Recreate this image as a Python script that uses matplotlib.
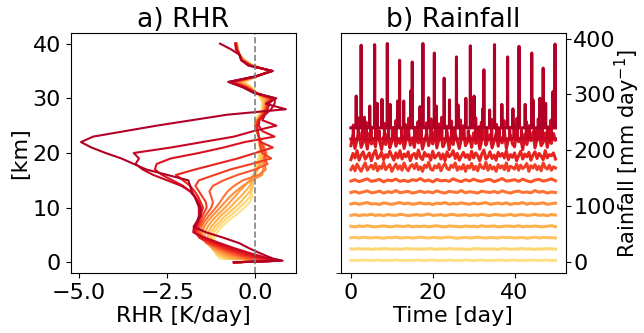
import numpy as np
import matplotlib
matplotlib.use("Agg")
import matplotlib.pyplot as plt
from matplotlib.ticker import FixedLocator

plt.rcParams["font.size"] = 16

# ---- a) radiative heating rate profiles (K/day), lightest -> darkest
heights = [0, 0.3, 0.7, 1.5, 2.5, 3.5, 4.5, 5.5, 6.5, 7.5, 8.5, 10, 11, 12, 13, 14, 15,
           16, 17, 18, 19, 20, 21, 22, 23, 24, 25, 26, 27, 28, 29, 30, 31, 32, 33, 34,
           35, 36, 37, 38, 39, 40]

rhr_profiles = [
    [-0.55, 0.45, -1.0, -1.12, -1.18, -1.18, -1.15, -1.08, -0.95, -0.78, -0.58, -0.3,
     -0.15, -0.08, -0.12, -0.06, -0.1, -0.04, -0.02, 0.02, 0.08, 0.12, 0.12, 0.1, 0.1, 0.06, 0.02, 0.0, 0.1, 0.18, 0.2,
     0.15, 0.05, -0.1, -0.3, 0.05, 0.4, -0.05, -0.3, -0.45, -0.5, -0.5],
    [-0.58, 0.48, -0.9, -1.1, -1.2, -1.22, -1.22, -1.17, -1.05, -0.9, -0.72, -0.45,
     -0.28, -0.15, -0.1, -0.08, -0.06, -0.04, 0.0, 0.05, 0.12, 0.15, 0.15, 0.12, 0.1, 0.05, 0.0, 0.02, 0.12, 0.2, 0.22,
     0.18, 0.04, -0.12, -0.34, 0.05, 0.41, -0.06, -0.31, -0.45, -0.5, -0.52],
    [-0.6, 0.5, -0.8, -1.05, -1.22, -1.27, -1.28, -1.25, -1.15, -1.0, -0.85, -0.58,
     -0.42, -0.28, -0.15, -0.08, -0.05, 0.0, 0.05, 0.1, 0.15, 0.18, 0.18, 0.14, 0.1, 0.05, 0.0, 0.04, 0.14, 0.22, 0.24,
     0.2, 0.04, -0.14, -0.38, 0.05, 0.42, -0.07, -0.32, -0.45, -0.5, -0.52],
    [-0.6, 0.52, -0.68, -0.98, -1.22, -1.32, -1.35, -1.33, -1.25, -1.12, -0.98, -0.72,
     -0.58, -0.42, -0.28, -0.15, -0.08, -0.02, 0.05, 0.12, 0.2, 0.22, 0.2, 0.15, 0.1, 0.05, 0.0, 0.05, 0.15, 0.24, 0.26,
     0.24, 0.04, -0.15, -0.42, 0.04, 0.43, -0.08, -0.33, -0.45, -0.5, -0.53],
    [-0.6, 0.55, -0.55, -0.9, -1.2, -1.36, -1.42, -1.42, -1.35, -1.24, -1.1, -0.86,
     -0.72, -0.58, -0.45, -0.3, -0.16, -0.05, 0.08, 0.18, 0.25, 0.28, 0.24, 0.16, 0.1, 0.05, 0.0, 0.06, 0.16, 0.25, 0.28,
     0.28, 0.03, -0.17, -0.46, 0.04, 0.44, -0.09, -0.34, -0.45, -0.5, -0.53],
    [-0.6, 0.58, -0.42, -0.8, -1.15, -1.38, -1.48, -1.5, -1.45, -1.35, -1.22, -1.0,
     -0.86, -0.72, -0.55, -0.35, -0.1, 0.2, 0.22, 0.25, 0.3, 0.32, 0.26, 0.18, 0.1, 0.05, 0.0, 0.06, 0.18, 0.26, 0.3,
     0.32, 0.03, -0.19, -0.5, 0.03, 0.45, -0.1, -0.35, -0.45, -0.5, -0.54],
    [-0.6, 0.6, -0.3, -0.7, -1.08, -1.38, -1.52, -1.55, -1.52, -1.44, -1.32, -1.12,
     -1.0, -0.9, -0.78, -0.6, -0.35, 0.1, 0.3, 0.25, 0.3, 0.3, 0.25, 0.18, 0.1, 0.05, 0.0, 0.08, 0.2, 0.28, 0.32,
     0.36, 0.02, -0.21, -0.54, 0.03, 0.46, -0.11, -0.36, -0.45, -0.5, -0.54],
    [-0.6, 0.62, -0.15, -0.6, -1.0, -1.35, -1.55, -1.6, -1.58, -1.5, -1.42, -1.25,
     -1.2, -1.25, -1.3, -1.2, -0.9, -0.5, 0.0, 0.35, 0.25, 0.28, 0.22, 0.15, 0.1, 0.05, 0.0, 0.08, 0.2, 0.3, 0.34,
     0.4, 0.02, -0.23, -0.58, 0.02, 0.46, -0.12, -0.37, -0.45, -0.52, -0.55],
    [-0.6, 0.65, 0.0, -0.48, -0.9, -1.3, -1.58, -1.66, -1.62, -1.55, -1.5, -1.38,
     -1.4, -1.5, -1.6, -1.7, -1.6, -1.15, -0.7, -0.1, 0.45, 0.2, 0.15, 0.12, 0.1, 0.06, 0.02, 0.1, 0.22, 0.32, 0.36,
     0.44, 0.01, -0.25, -0.62, 0.02, 0.47, -0.13, -0.38, -0.45, -0.52, -0.55],
    [-0.6, 0.68, 0.15, -0.35, -0.8, -1.22, -1.58, -1.7, -1.66, -1.6, -1.56, -1.48,
     -1.55, -1.62, -1.72, -1.85, -2.05, -2.25, -1.7, -1.1, -0.5, 0.0, 0.5, 0.15, 0.1, 0.08, 0.05, 0.1, 0.24, 0.34, 0.38,
     0.48, 0.01, -0.27, -0.66, 0.01, 0.47, -0.14, -0.38, -0.45, -0.53, -0.56],
    [-0.6, 0.7, 0.28, -0.2, -0.68, -1.1, -1.5, -1.74, -1.7, -1.62, -1.58, -1.55,
     -1.6, -1.7, -1.85, -2.05, -2.35, -2.65, -2.85, -2.8, -2.4, -1.6, -0.9, -0.3, 0.55, 0.2, 0.1, 0.12, 0.25, 0.35, 0.4,
     0.52, 0.0, -0.29, -0.7, 0.01, 0.48, -0.16, -0.39, -0.45, -0.54, -0.56],
    [-0.6, 0.72, 0.4, -0.05, -0.55, -1.0, -1.42, -1.76, -1.74, -1.65, -1.6, -1.6,
     -1.65, -1.72, -1.85, -2.1, -2.5, -2.9, -3.2, -3.4, -3.3, -3.45, -2.4, -1.5, -0.6, -0.05, 0.6, 0.2, 0.28, 0.45, 0.55,
     0.56, 0.0, -0.32, -0.74, 0.0, 0.49, -0.18, -0.4, -0.45, -0.55, -0.56],
    [-0.62, 0.78, 0.5, 0.2, -0.15, -0.45, -0.9, -1.4, -1.75, -1.65, -1.55, -1.55,
     -1.65, -1.72, -1.8, -1.85, -1.9, -2.5, -3.1, -3.45, -3.8, -4.25, -4.65, -4.95, -4.6, -3.7, -2.8, -1.8, -0.8, 0.87, 0.3,
     0.6, -0.05, -0.35, -0.77, 0.0, 0.5, -0.2, -0.4, -0.45, -0.7, -1.0],
]

# ---- b) rainfall (mm/day); daily values for the calm runs
rain_days = np.arange(0, 51)
rain_0 = [2, 2.5, 2, 3, 2.5, 2, 2.5, 3, 2, 2.5, 2, 3, 2.5, 2, 2.5, 2, 3, 2.5, 2, 2.5,
          3, 2, 2.5, 2, 3, 2.5, 2, 2, 3, 2.5, 2, 2.5, 3, 2, 2.5, 2, 3, 2.5, 2, 2.5,
          3, 2, 2.5, 2, 3, 2.5, 2, 2.5, 3, 2, 2.5]
rain_1 = [3, 2.5, 3.5, 2.5, 3, 2, 3, 2.5, 3.5, 3, 2.5, 3, 2, 3, 3.5, 2.5, 3, 2.5, 2.5, 3.5,
          3, 2, 3, 2.5, 3.5, 3, 2.5, 3, 2.5, 2, 3, 3.5, 2.5, 3, 2.5, 3, 2, 3.5, 3, 2.5,
          2.5, 3, 3.5, 2.5, 3, 2, 3, 2.5, 3.5, 3, 2.5]
rain_2 = [3, 3.5, 2.5, 4, 3, 2.5, 3.5, 3, 2, 3.5, 3, 4, 2.5, 3, 3.5, 2.5, 3, 4, 3, 2.5,
          3.5, 3, 2.5, 3.5, 4, 3, 2, 3, 3.5, 2.5, 3, 4, 3, 2.5, 3.5, 3, 2.5, 4, 3, 3.5,
          2.5, 3, 3.5, 2, 3, 4, 2.5, 3.5, 3, 3, 2.5]
rain_3 = [3.5, 2.5, 4, 3, 4.5, 3, 2.5, 3.5, 4, 3, 2.5, 4, 3.5, 3, 4.5, 2.5, 3.5, 3, 4, 2.5,
          3.5, 4.5, 3, 2.5, 4, 3.5, 3, 2.5, 4, 3, 3.5, 2.5, 4.5, 3, 3.5, 4, 2.5, 3, 4, 3.5,
          3, 4.5, 2.5, 3.5, 3, 4, 3, 2.5, 3.5, 4.5, 3]
rain_4 = [3, 4.5, 2.5, 4, 3.5, 5, 3, 4, 2.5, 4.5, 3.5, 3, 5, 4, 2.5, 3.5, 4.5, 3, 4, 5.5,
          3, 3.5, 4.5, 2.5, 4, 5, 3, 3.5, 4.5, 2.5, 4, 3, 5, 3.5, 2.5, 4.5, 4, 3, 3.5, 5,
          2.5, 4, 4.5, 3, 3.5, 5, 3, 4, 2.5, 4.5, 3.5]
rain_5 = [3.5, 5, 3, 4.5, 6, 3.5, 4, 2.5, 5.5, 4, 3, 4.5, 6, 3.5, 5, 3, 4, 5.5, 3.5, 4.5,
          2.5, 5, 4, 6, 3, 4.5, 3.5, 5.5, 4, 3, 5, 3.5, 4.5, 6, 3, 4, 5, 3.5, 5.5, 2.5,
          4.5, 4, 6, 3, 5, 3.5, 4.5, 5.5, 3, 4, 5]
rain_6 = [4, 6, 3, 5, 7, 3.5, 4.5, 6.5, 3, 5.5, 4, 7.5, 3.5, 5, 6, 3, 4.5, 6.5, 4, 5.5,
          3.5, 7, 4.5, 3, 6, 5, 4, 7.5, 3.5, 5.5, 4.5, 3, 6.5, 5, 4, 6, 3.5, 7, 4.5, 3,
          5.5, 6.5, 4, 5, 3.5, 7.5, 4.5, 6, 3, 5, 4]
rain_7 = [4.5, 7, 3.5, 6, 8.5, 4, 5.5, 7.5, 3, 6.5, 5, 8, 4, 6, 3.5, 7, 5.5, 9, 4.5, 6.5,
          3, 7.5, 5, 6, 4, 8.5, 5.5, 3.5, 7, 4.5, 8, 5, 4, 6.5, 7.5, 3.5, 6, 9, 4.5, 5.5,
          7, 4, 8, 5, 3, 6.5, 7.5, 4.5, 6, 8.5, 5]

# half-daily values for the gustier runs
rain_half_days = np.arange(0, 50.5, 0.5)
rain_8 = [5, 12, 3, 15, 8, 2, 10, 17, 4, 9, 13, 6, 16, 3, 11, 7, 18, 5, 10, 14,
          2, 9, 15, 6, 12, 4, 17, 8, 3, 11, 14, 7, 16, 5, 10, 2, 13, 9, 18, 6,
          4, 12, 8, 15, 3, 11, 16, 7, 5, 13, 9, 17, 4, 10, 6, 14, 2, 12, 8, 16,
          5, 11, 3, 15, 9, 7, 18, 4, 13, 6, 10, 2, 14, 8, 12, 5, 17, 3, 11, 9,
          6, 15, 4, 13, 7, 10, 16, 2, 12, 8, 14, 5, 11, 3, 17, 9, 6, 13, 4, 10, 8]
rain_9 = [3, 14, 6, 19, 2, 11, 17, 4, 9, 15, 1, 13, 20, 5, 8, 16, 3, 12, 7, 18,
          10, 2, 15, 6, 19, 4, 13, 8, 17, 1, 11, 14, 5, 20, 7, 3, 16, 9, 12, 2,
          18, 6, 10, 15, 4, 13, 1, 17, 8, 11, 19, 5, 14, 2, 9, 16, 7, 12, 3, 18,
          6, 15, 10, 1, 13, 20, 4, 8, 17, 5, 11, 2, 16, 9, 14, 6, 19, 3, 12, 7,
          15, 1, 10, 18, 4, 13, 8, 16, 2, 11, 17, 5, 14, 9, 3, 19, 6, 12, 10, 15, 4]
rain_10 = [8, 27, 3, 19, 32, 5, 14, 25, 2, 30, 11, 21, 6, 34, 17, 1, 24, 10, 29, 4,
           15, 33, 7, 20, 12, 28, 3, 18, 35, 9, 22, 5, 31, 13, 26, 2, 16, 30, 8, 23,
           11, 34, 4, 19, 27, 6, 14, 32, 1, 25, 10, 29, 17, 3, 21, 33, 8, 15, 26, 5,
           31, 12, 24, 2, 18, 35, 9, 20, 28, 4, 16, 30, 7, 23, 13, 34, 3, 19, 27, 11,
           6, 32, 15, 22, 1, 29, 10, 25, 17, 33, 4, 20, 28, 8, 14, 31, 5, 24, 12, 30, 18]

# the two most organised runs: dry most of the time, with isolated bursts
burst_11_days = [0.6, 1.8, 2.9, 3.7, 4.9, 6.1, 6.9, 8.2, 9.2, 10.3, 11.0, 12.4, 13.3,
                 14.1, 15.6, 16.4, 17.2, 18.5, 19.6, 20.7, 21.5, 22.2, 23.4, 24.6, 25.4,
                 26.8, 27.6, 28.7, 30.5, 31.3, 31.9, 33.2, 34.4, 35.6, 36.3, 37.4, 38.8,
                 39.9, 40.6, 41.7, 42.9, 43.6, 45.0, 45.8, 46.7, 48.1, 48.9]
burst_11_rain = [25, 38, 18, 30, 22, 35, 15, 28, 40, 20, 33, 17, 26, 37, 21, 31, 16, 29,
                 36, 19, 27, 39, 23, 32, 18, 34, 24, 15, 38, 22, 30, 20, 35, 26, 17, 33,
                 21, 28, 37, 16, 31, 24, 19, 36, 27, 22, 34]
burst_12_days = [1.3, 2.5, 3.3, 4.6, 5.8, 6.4, 7.6, 8.9, 9.6, 11.4, 11.9, 12.9, 14.6,
                 15.0, 16.9, 17.6, 19.0, 20.4, 20.9, 22.8, 24.1, 25.8, 26.2, 28.1, 29.2,
                 30.1, 32.2, 32.5, 33.9, 35.1, 36.9, 38.3, 39.6, 41.1, 42.6, 44.2, 44.5,
                 46.2, 47.0, 47.6, 49.4, 49.9]
burst_12_rain = [57, 148, 19, 39, 149, 44, 51, 151, 42, 48, 121, 48, 66, 118, 38, 151,
                 54, 134, 39, 89, 50, 127, 41, 53, 147, 57, 34, 104, 32, 149, 42, 127,
                 34, 146, 42, 134, 50, 53, 107, 44, 65, 150]


def burst_series(days, rain, end=50.0, half_width=0.04):
    """Dry baseline with a narrow burst at each listed day."""
    t, r = [0.0], [0.0]
    for d, v in zip(days, rain):
        t += [d - half_width, d, d + half_width]
        r += [0.0, v, 0.0]
    t.append(end)
    r.append(0.0)
    return np.array(t), np.array(r)


rain_runs = [(rain_days, rain_0), (rain_days, rain_1), (rain_days, rain_2),
             (rain_days, rain_3), (rain_days, rain_4), (rain_days, rain_5),
             (rain_days, rain_6), (rain_days, rain_7),
             (rain_half_days, rain_8), (rain_half_days, rain_9), (rain_half_days, rain_10),
             burst_series(burst_11_days, burst_11_rain),
             burst_series(burst_12_days, burst_12_rain)]

colors = plt.cm.YlOrRd(np.linspace(0.2, 0.9, len(rhr_profiles)))
stack_step = 20  # vertical offset between runs in panel b

fig = plt.figure(figsize=(6.44, 3.33), dpi=100)
ax1 = fig.add_axes([0.1098, 0.1793, 0.3494, 0.7225])
ax2 = fig.add_axes([0.529, 0.1793, 0.3494, 0.7225])

for i, prof in enumerate(rhr_profiles):
    ax1.plot(prof, heights, color=colors[i], lw=1.5)
ax1.axvline(0, color="gray", ls="--", lw=1.2)
ax1.set_xlim(-5.24, 1.15)
ax1.set_ylim(-2, 42)
ax1.set_xticks([-5, -2.5, 0])
ax1.set_yticks([0, 10, 20, 30, 40])
ax1.set_xlabel("RHR [K/day]", labelpad=2)
ax1.set_ylabel("[km]", labelpad=2)
ax1.set_title("a) RHR", pad=4)

for i, (t, r) in enumerate(rain_runs):
    ax2.plot(t, np.asarray(r, dtype=float) + stack_step * i, color=colors[i], lw=2.2)
ax2.set_xlim(-2.5, 52.5)
ax2.set_ylim(-20.8, 410.5)
ax2.set_xticks([0, 20, 40])
ax2.set_yticks([0, 100, 200, 300, 400])
ax2.yaxis.tick_right()
ax2.yaxis.set_label_position("right")
ax2.yaxis.set_minor_locator(FixedLocator([-20.8]))
ax2.tick_params(axis="y", which="minor", left=True, right=False, length=3.5)
ax2.tick_params(axis="y", which="major", pad=2)
ax2.set_xlabel("Time [day]", labelpad=2)
ax2.set_ylabel("Rainfall [mm day$^{-1}$]", fontsize=15)
ax2.set_title("b) Rainfall", pad=4)

# keep the right-hand label inside the canvas
ax2.yaxis.set_label_coords(1.23, 0.5)
fig.canvas.draw()
bb = ax2.yaxis.label.get_window_extent()
ax_w = ax2.get_window_extent().width
overshoot = bb.x1 - (fig.bbox.width - 2)
if overshoot > 0:
    ax2.yaxis.set_label_coords(1.23 - overshoot / ax_w, 0.5)

fig.savefig("out.png", dpi=100)
